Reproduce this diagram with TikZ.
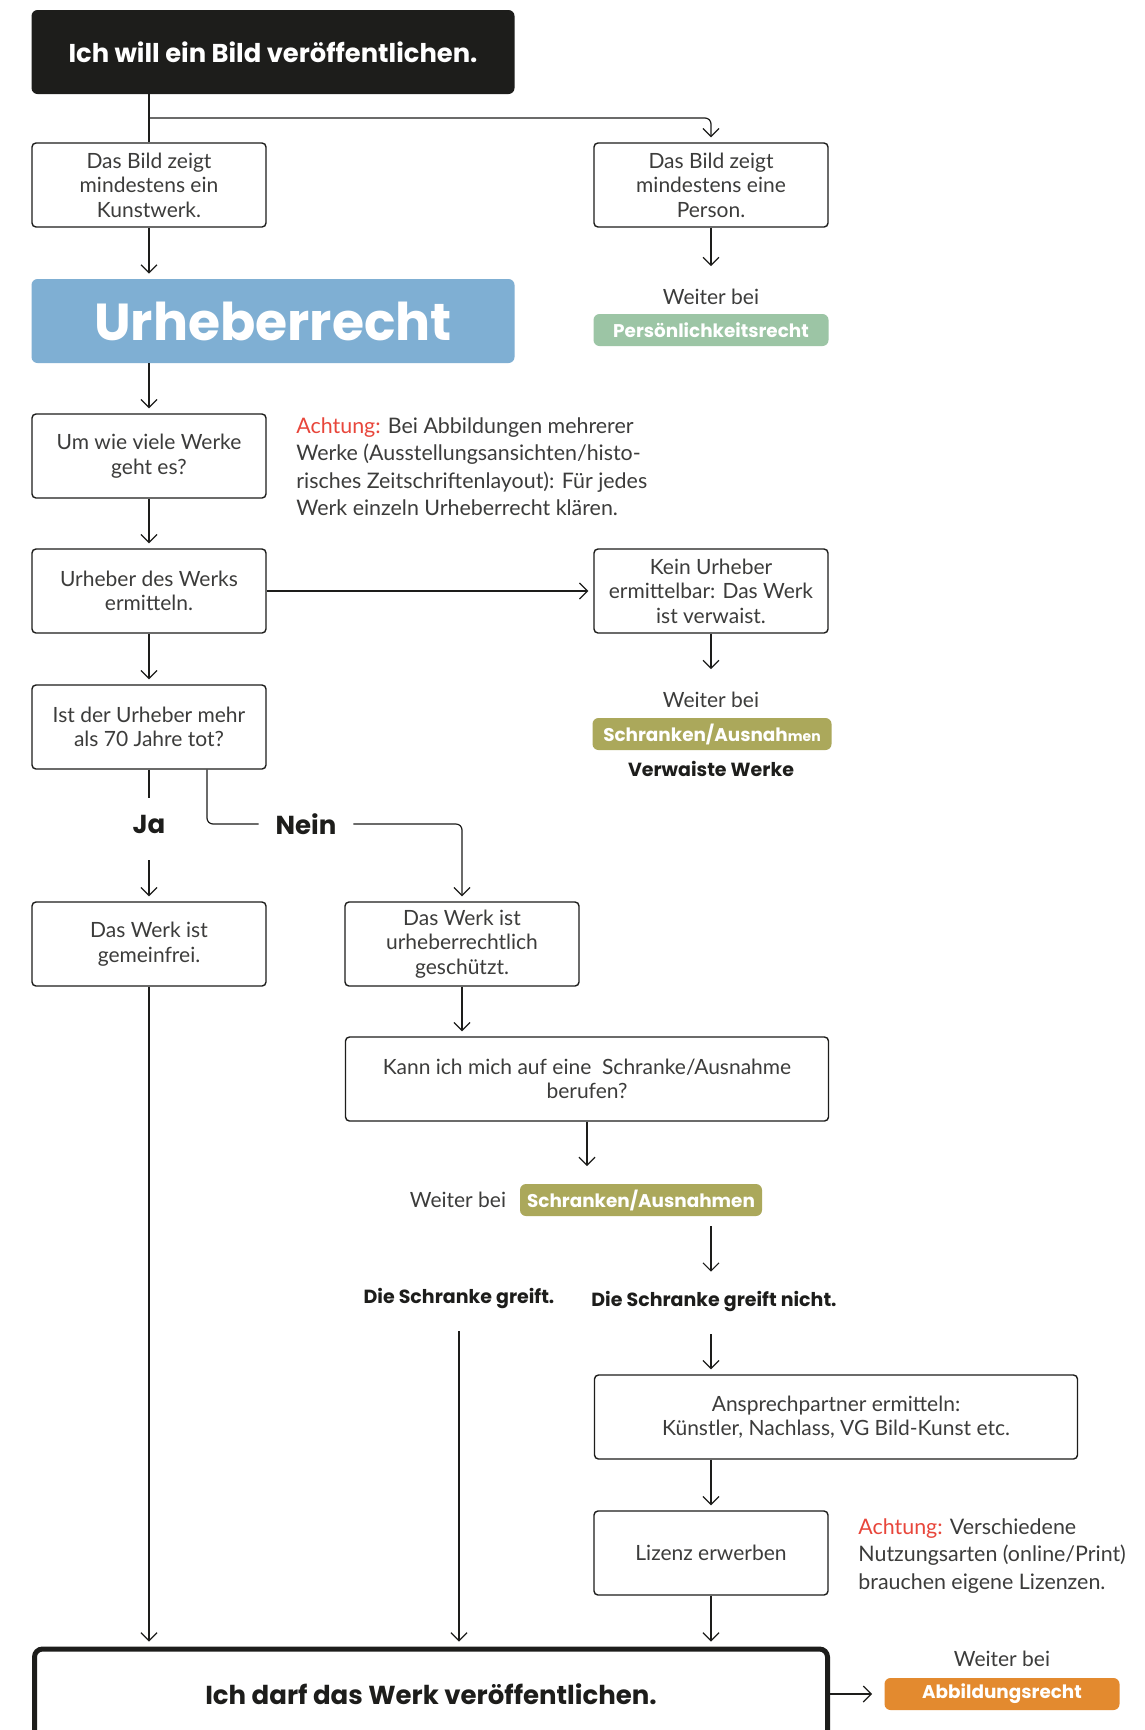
\documentclass[tikz,border=0pt]{standalone}
\usepackage{fontspec}
\setmainfont{Lato}
\newfontfamily\headfont{Poppins}
\usetikzlibrary{arrows.meta}
\definecolor{txtgray}{HTML}{3C3C3B}
\definecolor{titleblack}{HTML}{1D1D1B}
\definecolor{urhblue}{HTML}{7FAFD3}
\definecolor{persgreen}{HTML}{9CC5A5}
\definecolor{schrolive}{HTML}{ABA85B}
\definecolor{abborange}{HTML}{E38A2F}
\definecolor{warnred}{HTML}{E8463B}
\tikzset{
    box/.style={
        draw=titleblack,
        line width=0.7pt,
        rounded corners=2pt,
        minimum width=117pt,
        minimum height=42pt,
        inner sep=2pt,
        align=center,
        text=txtgray,
        font=\fontsize{10.5}{12.2}\selectfont
    },
    titlebox/.style={
        fill=titleblack,
        rounded corners=3pt,
        minimum width=241.5pt,
        minimum height=42pt,
        text=white,
        font=\headfont\bfseries\fontsize{12.9}{15}\selectfont
    },
    urhbox/.style={
        fill=urhblue,
        rounded corners=3pt,
        minimum width=241.5pt,
        minimum height=42pt,
        text=white,
        font=\headfont\bfseries\fontsize{26}{30}\selectfont
    },
    finalbox/.style={
        draw=titleblack,
        line width=2.5pt,
        rounded corners=4pt,
        minimum width=396.5pt,
        minimum height=45pt,
        text=titleblack,
        font=\headfont\bfseries\fontsize{13}{15}\selectfont
    },
    pill/.style={
        rounded corners=3pt,
        minimum width=117.5pt,
        minimum height=16pt,
        inner sep=0pt,
        text=white,
        font=\headfont\bfseries\fontsize{9.2}{11}\selectfont
    },
    weiter/.style={text=txtgray, font=\fontsize{10.5}{12.2}\selectfont},
    note/.style={anchor=north west, inner sep=0pt, align=left, text=txtgray,
        font=\fontsize{10.7}{13.8}\selectfont},
    answer/.style={text=titleblack, font=\headfont\bfseries\fontsize{9.5}{11}\selectfont},
    yesno/.style={text=titleblack, font=\headfont\bfseries\fontsize{13}{15}\selectfont},
    conn/.style={draw=titleblack, line width=0.6pt},
    arr/.style={conn, -{Straight Barb[length=4pt,width=8pt]}, shorten >=2.5pt}
}

\begin{document}
\begin{tikzpicture}[x=0.5pt,y=-0.5pt]
    \path[use as bounding box, clip] (0,0) rectangle (1145,1730);
    \fill[white] (0,0) rectangle (1145,1730);

    \node[titlebox] (start) at (273,52) {Ich will ein Bild veröffentlichen.};
    \node[box] (kunst) at (149,185) {Das Bild zeigt\\mindestens ein\\Kunstwerk.};
    \node[box] (person) at (711,185) {Das Bild zeigt\\mindestens eine\\Person.};
    \node[urhbox] (urh) at (273,321) {Urheberrecht};
    \node[weiter] (weiterpers) at (711,297) {Weiter bei};
    \node[pill,fill=persgreen] (pers) at (711,330) {Persönlichkeitsrecht};
    \node[box] (anzahl) at (149,456) {Um wie viele Werke\\geht es?};
    \node[note] (hinweis) at (296,417) {\textcolor{warnred}{Achtung:} Bei Abbildungen mehrerer\\Werke (Ausstellungsansichten/histo-\\risches Zeitschriftenlayout): Für jedes\\Werk einzeln Urheberrecht klären.};
    \node[box] (urheber) at (149,591) {Urheber des Werks\\ermitteln.};
    \node[box] (kein) at (711,591) {Kein Urheber\\ermittelbar: Das Werk\\ist verwaist.};
    \node[weiter] (weiterverw) at (711,700) {Weiter bei};
    \node[pill,fill=schrolive,minimum width=119.5pt] (verw) at (712,734) {Schranken/Ausnah{\fontsize{7}{8}\selectfont men}};
    \node[answer] (verwaist) at (711,769) {Verwaiste Werke};
    \node[box] (tot) at (149,727) {Ist der Urheber mehr\\als 70 Jahre tot?};
    \node[yesno] (ja) at (149,824) {Ja};
    \node[yesno] (nein) at (306,824) {Nein};
    \node[box] (frei) at (149,944) {Das Werk ist\\gemeinfrei.};
    \node[box] (geschuetzt) at (462,944) {Das Werk ist\\urheberrechtlich\\geschützt.};
    \node[box,minimum width=241.5pt] (kann) at (587,1079) {Kann ich mich auf eine \ Schranke/Ausnahme\\berufen?};
    \node[weiter] (weiterschr) at (458,1200) {Weiter bei};
    \node[pill,fill=schrolive,minimum width=121pt] (schr) at (641,1200) {Schranken/Ausnahmen};
    \node[answer] (greift) at (459,1298) {Die Schranke greift.};
    \node[answer] (nicht) at (714,1301) {Die Schranke greift nicht.};
    \node[box,minimum width=241.5pt] (ansprech) at (836,1417) {Ansprechpartner ermitteln:\\Künstler, Nachlass, VG Bild-Kunst etc.};
    \node[box] (lizenz) at (711,1553) {Lizenz erwerben};
    \node[note] (hinweis2) at (858,1518) {\textcolor{warnred}{Achtung:} Verschiedene\\Nutzungsarten (online/Print)\\brauchen eigene Lizenzen.};
    \node[finalbox] (ende) at (431,1694) {Ich darf das Werk veröffentlichen.};
    \node[weiter] (weiterabb) at (1002,1659) {Weiter bei};
    \node[pill,fill=abborange] (abb) at (1002,1694) {Abbildungsrecht};

    \coordinate (abzweig) at (149,118);
    \coordinate (kannpfeil) at (587,1171);
    \draw[conn] (kunst |- start.south) -- (kunst.north);
    \draw[arr,rounded corners=3pt] (abzweig) -| (person.north);
    \draw[arr] (kunst.south) -- (kunst.south |- urh.north);
    \draw[arr,shorten >=8pt] (person) -- (weiterpers);
    \draw[arr] (urh.south -| anzahl) -- (anzahl);
    \draw[arr] (anzahl) -- (urheber);
    \draw[arr] (urheber) -- (kein);
    \draw[arr,shorten >=8pt] (kein) -- (weiterverw);
    \draw[arr] (urheber) -- (tot);
    \draw[conn,shorten >=5pt] (tot) -- (ja);
    \draw[arr,shorten <=10pt] (ja) -- (frei);
    \draw[conn,rounded corners=3pt,shorten >=5pt] ([xshift=29pt]tot.south) |- (nein.west);
    \draw[arr,rounded corners=3pt,shorten <=5pt] (nein.east) -| (geschuetzt.north);
    \draw[arr] (geschuetzt) -- (geschuetzt |- kann.north);
    \draw[arr] (kann) -- (kannpfeil);
    \draw[arr,shorten <=5pt,shorten >=6pt] (lizenz |- schr.south) -- (lizenz |- nicht.north);
    \draw[arr,shorten <=8pt] (greift) -- (greift |- ende.north);
    \draw[arr,shorten <=8pt] (lizenz |- nicht.south) -- (lizenz |- ansprech.north);
    \draw[arr] (ansprech.south -| lizenz) -- (lizenz);
    \draw[arr] (lizenz) -- (lizenz |- ende.north);
    \draw[arr] (frei) -- (frei |- ende.north);
    \draw[arr,shorten >=6pt] (ende) -- (abb);
\end{tikzpicture}
\end{document}
